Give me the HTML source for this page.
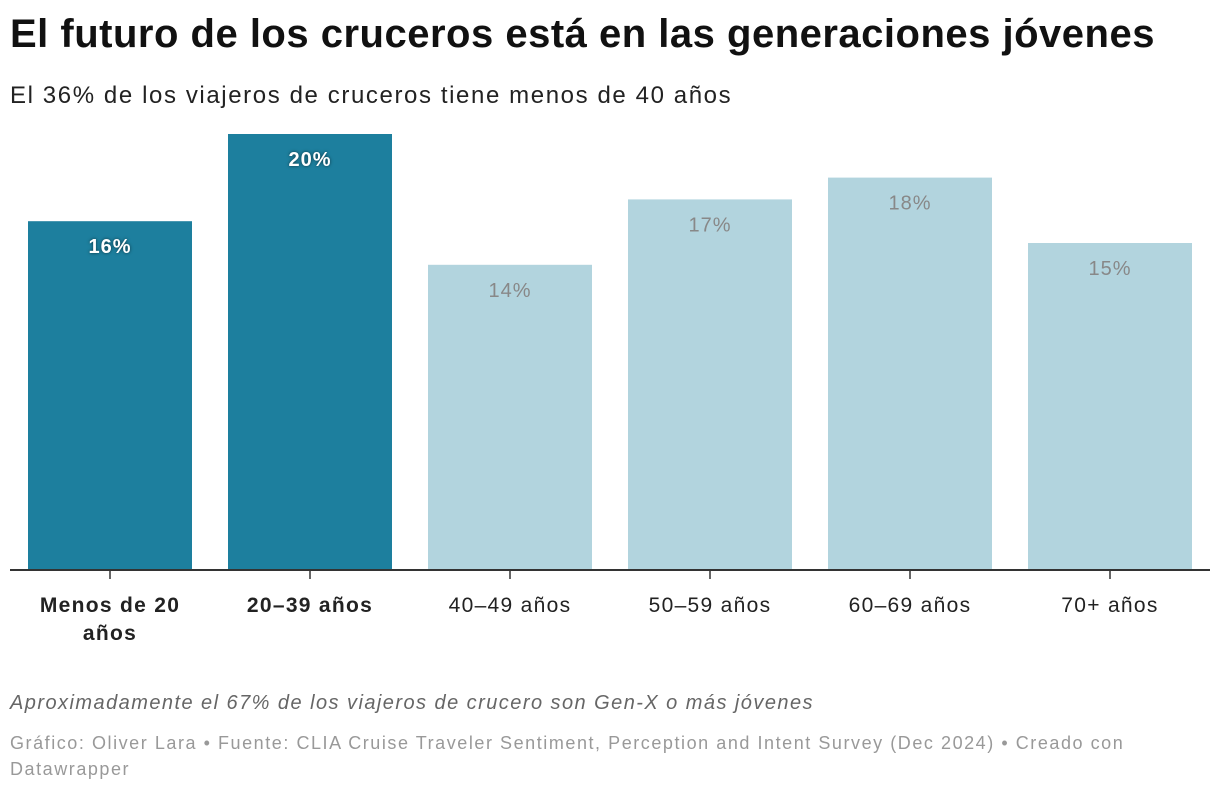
<!DOCTYPE html>
<html><head><meta charset="utf-8"><style>
body{margin:0;background:#fff;font-family:"Liberation Sans",sans-serif;width:1220px;height:792px;overflow:hidden;position:relative}
.t{position:absolute;left:10px;white-space:nowrap}
</style></head><body>
<div class="t" style="top:12px;font-size:40px;font-weight:bold;color:#111;letter-spacing:0.5px">El futuro de los cruceros está en las generaciones jóvenes</div>
<div class="t" style="top:82px;font-size:24px;color:#222;letter-spacing:1.6px">El 36% de los viajeros de cruceros tiene menos de 40 años</div>
<svg id="chart" width="1220" height="680" style="position:absolute;left:0;top:0"></svg>
<div class="t" style="top:692px;font-size:20px;font-style:italic;color:#666;letter-spacing:1.45px">Aproximadamente el 67% de los viajeros de crucero son Gen-X o más jóvenes</div>
<div class="t" style="top:730px;font-size:18px;color:#999;white-space:normal;width:1150px;line-height:26px;letter-spacing:1.55px">Gráfico: Oliver Lara • Fuente: CLIA Cruise Traveler Sentiment, Perception and Intent Survey (Dec 2024) • Creado con Datawrapper</div>
<script>
const categories=["Menos de 20|años","20–39 años","40–49 años","50–59 años","60–69 años","70+ años"];
const values=[16,20,14,17,18,15];
const highlight=[true,true,false,false,false,false];
const NS="http://www.w3.org/2000/svg";
const svg=document.getElementById('chart');
const base=570,scale=21.8,x0=10,band=200,pad=18;
const y=v=>base-v*scale;
function mk(t,a){const e=document.createElementNS(NS,t);for(const k in a)e.setAttribute(k,a[k]);svg.appendChild(e);return e;}
values.forEach((v,i)=>{
  const bx=x0+i*band+pad;
  const r=mk('rect',{x:bx,y:y(v),width:band-2*pad,height:v*scale,fill:highlight[i]?'#1d7f9e':'#b2d4de'});
  
  
  const t=mk('text',{x:bx+(band-2*pad)/2,y:y(v)+32,'text-anchor':'middle','font-size':20,'letter-spacing':1,'font-weight':highlight[i]?'bold':'normal',fill:highlight[i]?'#fff':'#888'});
  if(highlight[i])t.setAttribute('style','text-shadow:0 0 3px rgba(0,0,0,0.6)');
  t.textContent=v+'%';
  
  
  const cx=x0+i*band+band/2;
  const tk=mk('line',{x1:cx,x2:cx,y1:base,y2:base+9,stroke:'#333','stroke-width':1.5});
  
  
  const lines=categories[i].split('|');
  lines.forEach((l,j)=>{
    const lt=mk('text',{x:cx,y:base+42+j*28,'text-anchor':'middle','font-size':21,'letter-spacing':1.3,'font-weight':highlight[i]?'bold':'normal',fill:'#222'});
    lt.textContent=l;
    
    
  });
});
const ax=mk('line',{x1:10,x2:1210,y1:base,y2:base,stroke:'#333','stroke-width':2});


</script>
</body></html>
